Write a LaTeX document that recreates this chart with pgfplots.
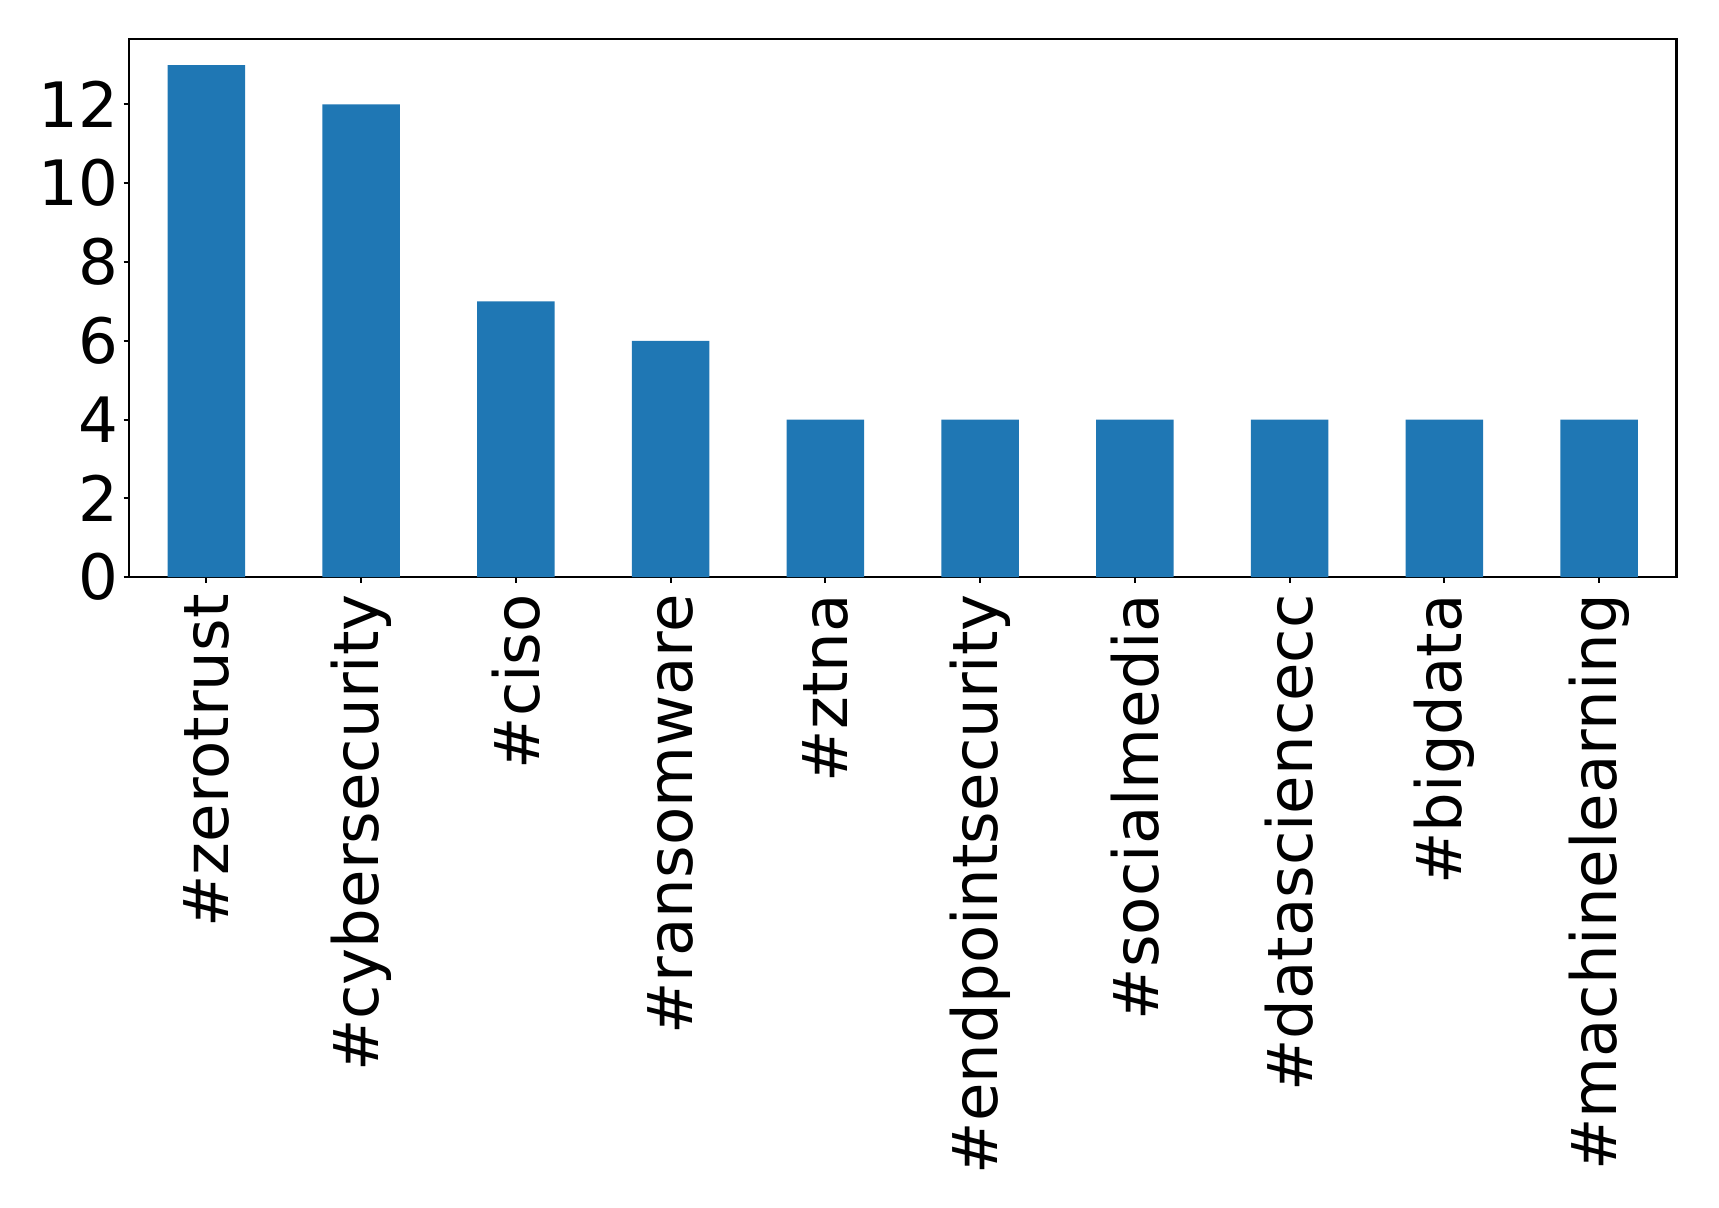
\documentclass[border=0pt]{standalone}
\usepackage{fontspec}
\setmainfont{DejaVu Sans}
\usepackage{pgfplots}
\pgfplotsset{compat=1.18}
\definecolor{mplblue}{HTML}{1F77B4}

\pgfplotstableread{
idx value
0 13
1 12
2 7
3 6
4 4
5 4
6 4
7 4
8 4
9 4
}\hashtags

\begin{document}
\begin{tikzpicture}
\path[use as bounding box] (-1.29cm,-6.30cm) rectangle (15.895cm,5.77cm);
\begin{axis}[
  at={(0,0)}, anchor=south west,
  scale only axis,
  width=15.47cm, height=5.376cm,
  xmin=-0.5, xmax=9.5,
  ymin=0, ymax=13.65,
  xtick=data,
  xticklabels={\#zerotrust,\#cybersecurity,\#ciso,\#ransomware,\#ztna,\#endpointsecurity,\#socialmedia,\#datasciencecc,\#bigdata,\#machinelearning},
  ytick={0,2,...,12},
  tick align=outside,
  major tick length=0.055cm,
  tick style={black, line width=0.6pt},
  xtick pos=bottom, ytick pos=left,
  axis line style={line width=0.6pt},
  every tick label/.append style={inner sep=0pt, font=\fontsize{17.8}{21}\selectfont},
  xticklabel style={rotate=90, anchor=east},
  yticklabel style={anchor=east},
  xticklabel shift=3.1pt,
  yticklabel shift=1.4pt,
  /pgf/number format/assume math mode=true,
  ybar, bar width=0.5, bar shift=0pt,
]
\addplot[fill=mplblue, draw=none] table[x=idx, y=value] {\hashtags};
\end{axis}
\end{tikzpicture}
\end{document}
